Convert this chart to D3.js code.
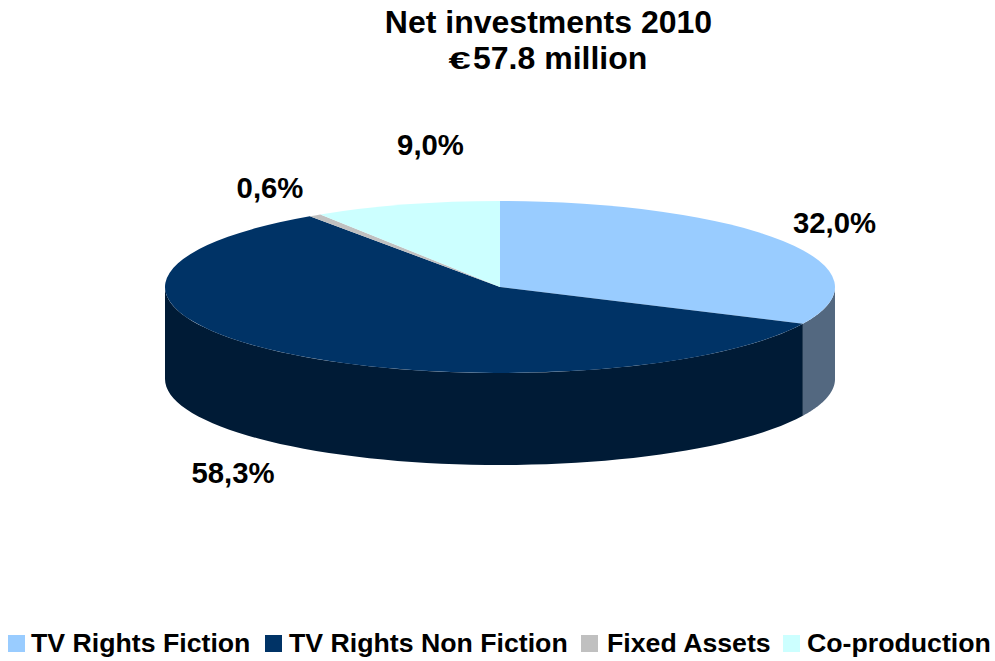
<!DOCTYPE html>
<html>
<head>
<meta charset="utf-8">
<script src="https://cdn.jsdelivr.net/npm/d3@7"></script>
<style>
  html, body { margin: 0; padding: 0; background: #fff; }
  svg { display: block; }
  text { font-family: "Liberation Sans", Arial, sans-serif; font-weight: bold; fill: #000; }
</style>
</head>
<body>
<svg id="chart" width="995" height="661"></svg>
<script>
const categories = ["TV Rights Fiction", "TV Rights Non Fiction", "Fixed Assets", "Co-production"];
const shares = [32.0, 58.3, 0.6, 9.0];
const shareLabels = ["32,0%", "58,3%", "0,6%", "9,0%"];
const topColors = ["#99CCFF", "#003366", "#C0C0C0", "#CCFFFF"];
const wallColors = ["#536880", "#001B36", "#606060", "#668080"];
const titleLines = ["Net investments 2010", "57.8 million"];
const currencySign = "€";

const cx = 500, cy = 287, rx = 335, ry = 86, depth = 92;
const svg = d3.select("#chart");

const slices = d3.pie().sort(null)(shares);
const px = a => cx + rx * Math.sin(a);
const py = a => cy - ry * Math.cos(a);

// Side walls: only the part of each slice on the front half of the ellipse shows
const wall = (s) => {
  const a0 = Math.max(s.startAngle, Math.PI / 2);
  const a1 = Math.min(s.endAngle, Math.PI * 1.5);
  if (a1 <= a0) return null;
  const p = d3.path();
  p.moveTo(px(a0), py(a0));
  p.lineTo(px(a0), py(a0) + depth);
  const steps = d3.range(0, 61).map(i => a0 + (a1 - a0) * i / 60);
  steps.forEach(a => p.lineTo(px(a), py(a) + depth));
  steps.reverse().forEach(a => p.lineTo(px(a), py(a)));
  p.closePath();
  return p.toString();
};

svg.append("g").selectAll("path")
  .data(slices)
  .join("path")
  .attr("d", wall)
  .attr("fill", (d, i) => wallColors[i]);

// Top face: a circular pie squashed vertically into an ellipse
const arc = d3.arc().innerRadius(0).outerRadius(rx);
svg.append("g")
  .attr("transform", `translate(${cx},${cy}) scale(1,${ry / rx})`)
  .selectAll("path")
  .data(slices)
  .join("path")
  .attr("d", arc)
  .attr("fill", (d, i) => topColors[i]);

// Title; the currency sign is drawn wide and low, apart from the amount
const title = svg.append("g").attr("font-size", 32);
title.append("text")
  .attr("x", 548.5).attr("y", 33)
  .attr("text-anchor", "middle")
  .text(titleLines[0]);
title.append("text")
  .attr("transform", "translate(448.5,68.5) scale(1.25,0.72)")
  .text(currencySign);
title.append("text")
  .attr("x", 473).attr("y", 69)
  .text(titleLines[1]);

// Value labels
const labelPos = [[834.5, 233], [233, 483], [270, 198], [430.5, 155]];
svg.append("g").selectAll("text")
  .data(shareLabels)
  .join("text")
  .attr("x", (d, i) => labelPos[i][0])
  .attr("y", (d, i) => labelPos[i][1])
  .attr("text-anchor", "middle")
  .attr("font-size", 29.3)
  .text(d => d);

// Legend
const legendSwatchX = [8, 265, 581, 783];
const legendTextX = [31, 289, 607, 807];
const legend = svg.append("g");
categories.forEach((c, i) => {
  legend.append("rect")
    .attr("x", legendSwatchX[i]).attr("y", 635)
    .attr("width", 17).attr("height", 17)
    .attr("fill", topColors[i]);
  legend.append("text")
    .attr("x", legendTextX[i]).attr("y", 652)
    .attr("font-size", 26.7)
    .text(c);
});
</script>
</body>
</html>
